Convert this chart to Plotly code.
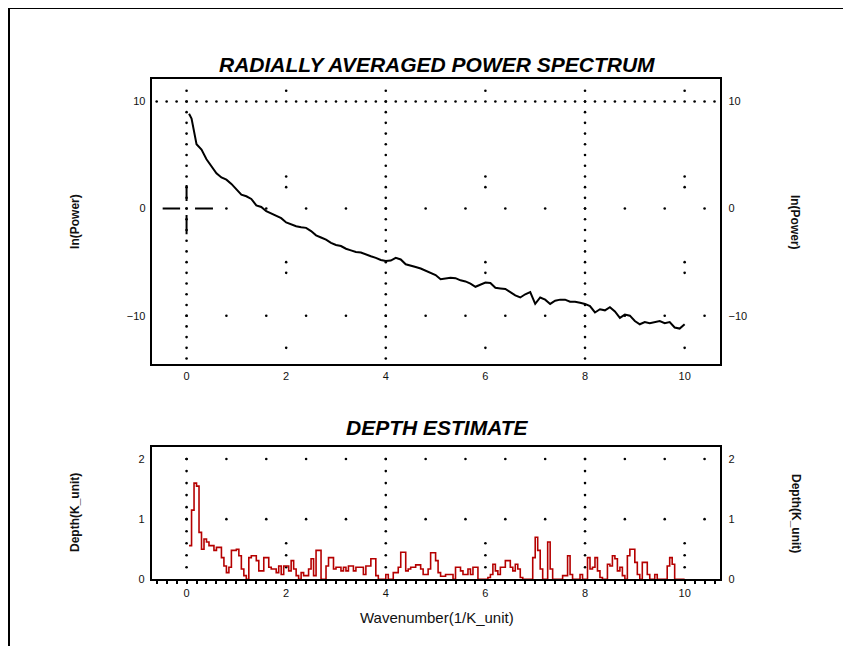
import plotly.graph_objects as go

# ---------------- data ----------------
spec_k = [0.05] + [round(0.1 * i, 2) for i in range(1, 101)]
spec_lnp = [
    8.85,
    8.4, 6.0, 5.5, 4.6, 3.9, 3.3, 2.9, 2.7, 2.3, 1.8,
    1.3, 1.15, 0.9, 0.3, 0.15, -0.25, -0.45, -0.7, -0.9, -1.3,
    -1.5, -1.65, -1.75, -1.8, -2.1, -2.5, -2.7, -2.9, -3.2, -3.4,
    -3.5, -3.75, -3.9, -4.05, -4.1, -4.3, -4.45, -4.6, -4.8, -4.9,
    -4.85, -4.6, -4.75, -5.2, -5.3, -5.45, -5.6, -5.8, -5.95, -6.2,
    -6.6, -6.5, -6.45, -6.5, -6.7, -6.8, -7.0, -7.3, -7.1, -6.9,
    -6.95, -7.4, -7.45, -7.5, -7.8, -8.1, -8.3, -8.0, -7.8, -8.9,
    -8.3, -8.5, -8.9, -8.6, -8.5, -8.5, -8.7, -8.7, -8.8, -8.9,
    -9.1, -9.7, -9.4, -9.5, -9.2, -9.6, -10.2, -9.9, -10.0, -10.5,
    -10.8, -10.6, -10.7, -10.6, -10.5, -10.7, -10.6, -11.1, -11.2, -10.8,
]

depth_k = [round(0.05 * i, 2) for i in range(1, 201)]
depth_val = [
    0.56, 1.15, 1.60, 1.55, 0.78, 0.50, 0.67, 0.62, 0.56, 0.56,
    0.48, 0.53, 0.53, 0.36, 0.22, 0.11, 0.20, 0.48, 0.48, 0.50,
    0.39, 0.17, 0.06, 0.00, 0.36, 0.39, 0.39, 0.31, 0.14, 0.14,
    0.36, 0.36, 0.20, 0.17, 0.17, 0.11, 0.22, 0.08, 0.22, 0.22,
    0.14, 0.31, 0.17, 0.06, 0.00, 0.11, 0.06, 0.06, 0.17, 0.34,
    0.06, 0.48, 0.48, 0.00, 0.00, 0.22, 0.36, 0.36, 0.17, 0.20,
    0.20, 0.14, 0.20, 0.14, 0.22, 0.22, 0.14, 0.20, 0.20, 0.20,
    0.08, 0.22, 0.22, 0.34, 0.34, 0.06, 0.00, 0.00, 0.00, 0.08,
    0.00, 0.00, 0.11, 0.11, 0.20, 0.45, 0.45, 0.14, 0.17, 0.20,
    0.20, 0.24, 0.24, 0.17, 0.08, 0.08, 0.17, 0.44, 0.44, 0.31,
    0.11, 0.05, 0.05, 0.08, 0.08, 0.08, 0.00, 0.20, 0.20, 0.14,
    0.08, 0.08, 0.17, 0.08, 0.20, 0.20, 0.00, 0.00, 0.00, 0.00,
    0.03, 0.08, 0.25, 0.14, 0.08, 0.20, 0.20, 0.31, 0.31, 0.20,
    0.14, 0.25, 0.17, 0.03, 0.00, 0.00, 0.00, 0.00, 0.36, 0.70,
    0.48, 0.17, 0.00, 0.00, 0.62, 0.17, 0.00, 0.00, 0.00, 0.00,
    0.06, 0.06, 0.39, 0.08, 0.00, 0.00, 0.00, 0.08, 0.00, 0.00,
    0.36, 0.17, 0.20, 0.36, 0.14, 0.03, 0.00, 0.00, 0.25, 0.22,
    0.39, 0.34, 0.14, 0.20, 0.06, 0.00, 0.39, 0.50, 0.50, 0.28,
    0.08, 0.00, 0.28, 0.28, 0.08, 0.00, 0.00, 0.08, 0.00, 0.00,
    0.00, 0.00, 0.22, 0.36, 0.25, 0.00, 0.00, 0.00, 0.00, 0.00,
]

x_ticks = [0, 2, 4, 6, 8, 10]
top_y_ticks = [-10, 0, 10]
bot_y_ticks = [0, 1, 2]

title_top = "RADIALLY AVERAGED POWER SPECTRUM"
title_bot = "DEPTH ESTIMATE"
ylabel_top = "ln(Power)"
ylabel_bot = "Depth(K_unit)"
xlabel = "Wavenumber(1/K_unit)"

# ---------------- layout geometry ----------------
# page body adds an 8px margin; the capture is slightly squeezed vertically (~0.987)
OFF = 8
SY = 0.987
W, H = 851 - 2 * OFF, 646
def fx(p):
    return (p - OFF) / W
def fy(p):
    return 1 - (p / SY - OFF) / H

XDOM = [fx(151.7), fx(719.5)]
TOP_DOM = [fy(363), fy(79)]
BOT_DOM = [fy(577), fy(445)]
XR = [-0.7, 10.7]
TOP_YR = [-14.55, 12.06]
BOT_YR = [0, 2.205]

FONT = "Arial, Liberation Sans, sans-serif"
INK = "#111111"
RED = "#b50000"

fig = go.Figure()

# ---------- decorative dotted grid (top) ----------
gx, gy = [], []
for xc in (0, 4, 8):
    for v in range(-14, 12):
        gx.append(xc); gy.append(v)
for xc in (2, 6, 10):
    for v in (11, 3, 2, -5, -6, -13):
        gx.append(xc); gy.append(v)
for i in range(-3, 54):
    gx.append(round(0.2 * i, 2)); gy.append(10)
for yr in (0, -10):
    for k in range(0, 14):
        gx.append(round(0.8 * k, 2)); gy.append(yr)
fig.add_trace(go.Scatter(x=gx, y=gy, mode="markers", xaxis="x", yaxis="y",
                         marker=dict(size=2.6, color="black"), hoverinfo="skip",
                         showlegend=False))

# ---------- decorative dotted grid (bottom) ----------
bx, by = [], []
for xc in (0, 4, 8):
    for i in range(1, 11):
        bx.append(xc); by.append(round(0.2 * i, 2))
for xc in (2, 6, 10):
    for v in (0.2, 0.4, 0.6):
        bx.append(xc); by.append(v)
for yr in (1, 2):
    for k in range(0, 14):
        bx.append(round(0.8 * k, 2)); by.append(yr)
fig.add_trace(go.Scatter(x=bx, y=by, mode="markers", xaxis="x2", yaxis="y2",
                         marker=dict(size=2.6, color="black"), hoverinfo="skip",
                         showlegend=False))

# ---------- data traces ----------
fig.add_trace(go.Scatter(x=spec_k, y=spec_lnp, mode="lines", xaxis="x", yaxis="y",
                         line=dict(color="black", width=2), showlegend=False))
fig.add_trace(go.Scatter(x=depth_k, y=depth_val, mode="lines", xaxis="x2", yaxis="y2",
                         line=dict(color=RED, width=1.6, shape="hv"), showlegend=False))

# dummy traces for right-side axes
fig.add_trace(go.Scatter(x=[None], y=[None], xaxis="x", yaxis="y3", showlegend=False))
fig.add_trace(go.Scatter(x=[None], y=[None], xaxis="x2", yaxis="y4", showlegend=False))

tickfont = dict(family=FONT, size=11, color=INK)
frame = dict(showline=True, linecolor="black", linewidth=2, mirror=True,
             showgrid=False, zeroline=False)

fig.update_layout(
    width=W, height=H,
    margin=dict(l=0, r=0, t=0, b=0),
    paper_bgcolor="white", plot_bgcolor="white",
    showlegend=False,
    xaxis=dict(domain=XDOM, range=XR, anchor="y", tickvals=x_ticks,
               tickfont=tickfont, ticks="", **frame),
    yaxis=dict(domain=TOP_DOM, range=TOP_YR, anchor="x", tickvals=top_y_ticks,
               tickfont=tickfont, ticks="", ticklabelstandoff=2, **frame),
    yaxis3=dict(range=TOP_YR, overlaying="y", side="right", anchor="x",
                tickvals=top_y_ticks, tickfont=tickfont, ticks="",
                ticklabelstandoff=8,
                showgrid=False, zeroline=False, showline=False),
    xaxis2=dict(domain=XDOM, range=XR, anchor="y2", tickvals=x_ticks,
                tickfont=tickfont, ticks="outside", ticklen=3, tickwidth=2,
                tickcolor="black",
                minor=dict(ticks="outside", dtick=0.2, tick0=0, ticklen=3,
                           tickwidth=2, tickcolor="black"),
                **frame),
    yaxis2=dict(domain=BOT_DOM, range=BOT_YR, anchor="x2", tickvals=bot_y_ticks,
                tickfont=tickfont, ticks="", ticklabelstandoff=3, **frame),
    yaxis4=dict(range=BOT_YR, overlaying="y2", side="right", anchor="x2",
                tickvals=bot_y_ticks, tickfont=tickfont, ticks="",
                ticklabelstandoff=8,
                showgrid=False, zeroline=False, showline=False),
)

# crosshair marker near origin of top plot
cross = [(-0.48, 0, -0.13, 0), (0.17, 0, 0.53, 0), (0, 0.7, 0, 2.2), (0, -0.6, 0, -2.4)]
for x0, y0, x1, y1 in cross:
    fig.add_shape(type="line", xref="x", yref="y", x0=x0, y0=y0, x1=x1, y1=y1,
                  line=dict(color="black", width=2))

# outer frame (left + top edges)
fig.add_shape(type="line", xref="paper", yref="paper", x0=fx(9), y0=fy(8), x1=fx(9), y1=0,
              line=dict(color="black", width=2))
fig.add_shape(type="line", xref="paper", yref="paper", x0=fx(9), y0=fy(8), x1=1, y1=fy(8),
              line=dict(color="black", width=2))

title_font = dict(family=FONT, size=21, color="black", weight="bold", style="italic")
label_font = dict(family=FONT, size=12, color=INK, weight="bold")

ann = [
    dict(text=title_top, x=fx(437), y=fy(64), font=title_font),
    dict(text=title_bot, x=fx(437), y=fy(426), font=title_font),
    dict(text=xlabel, x=fx(437), y=fy(615), font=dict(family=FONT, size=15, color=INK)),
    dict(text=ylabel_top, x=fx(75), y=fy(221), font=label_font, textangle=-90),
    dict(text=ylabel_top, x=fx(795), y=fy(221), font=label_font, textangle=90),
    dict(text=ylabel_bot, x=fx(75), y=fy(511), font=label_font, textangle=-90),
    dict(text=ylabel_bot, x=fx(796), y=fy(511), font=label_font, textangle=90),
]
for a in ann:
    fig.add_annotation(xref="paper", yref="paper", showarrow=False,
                       xanchor="center", yanchor="middle", **a)

fig.write_html("out.html")
